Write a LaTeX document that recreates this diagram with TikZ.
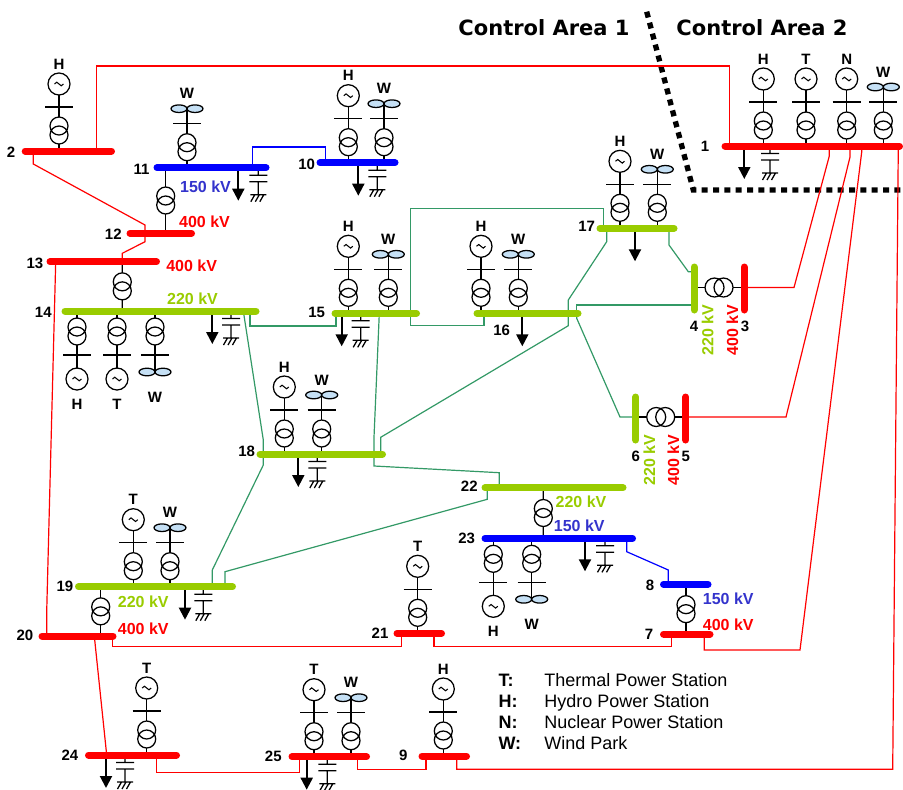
\documentclass[tikz,border=0pt]{standalone}
\usepackage{fontspec}
\setmainfont{Liberation Sans}
\newfontfamily\dvfont{DejaVu Sans}
\usetikzlibrary{arrows.meta,calc}
\definecolor{bred}{HTML}{FF0000}
\definecolor{bblue}{HTML}{0000FF}
\definecolor{bgreen}{HTML}{99CC00}
\definecolor{lgreen}{HTML}{339966}
\definecolor{tblue}{HTML}{3333CC}
\definecolor{wfill}{HTML}{C5E0F5}
\newcommand\defbus[4]{\coordinate (#1-l) at (#2,#4);\coordinate (#1-r) at (#3,#4);\coordinate (#1) at ({(#2+#3)/2},#4);}
\newcommand\defvbus[4]{\coordinate (#1-l) at (#2,#3);\coordinate (#1-r) at (#2,#4);\coordinate (#1) at (#2,{(#3+#4)/2});}
\newcommand\xfv[3]{%
  \coordinate (xa) at (#1,0 |- #2);\coordinate (xb) at (#1,0 |- #3);
  \coordinate (xm) at ($(xa)!0.5!(xb)$);
  \draw[sym] (xa) -- ($(xm)+(0,-13.5)$) ($(xm)+(0,13.5)$) -- (xb);
  \draw[sym] ($(xm)+(0,-4.5)$) circle[radius=9] ($(xm)+(0,4.5)$) circle[radius=9];}
\newcommand\xfh[3]{%
  \coordinate (xa) at (#2 |- 0,#1);\coordinate (xb) at (#3 |- 0,#1);
  \coordinate (xm) at ($(xa)!0.5!(xb)$);
  \draw[sym] (xa) -- ($(xm)+(-14,0)$) ($(xm)+(14,0)$) -- (xb);
  \draw[sym] ($(xm)+(-4.5,0)$) circle[radius=9.5] ($(xm)+(4.5,0)$) circle[radius=9.5];}
\tikzset{
  bus/.style={line width=5.25pt,line cap=round},
  rline/.style={draw=bred,line width=0.9pt},
  gline/.style={draw=lgreen,line width=0.9pt},
  bline/.style={draw=bblue,line width=0.9pt},
  sym/.style={draw=black,line width=0.95pt},
  num/.style={font=\bfseries\fontsize{11.25}{12}\selectfont,inner sep=0pt},
  kv/.style={font=\bfseries\fontsize{12}{13}\selectfont,inner sep=0pt},
  letter/.style={font=\bfseries\fontsize{11.25}{12}\selectfont,inner sep=0pt},
  legend/.style={font=\fontsize{13.5}{15}\selectfont,inner sep=0pt,anchor=base west},
  pics/genup/.style={code={
    \draw[sym] (0,0)--(0,-7) (0,-34)--(0,-56) (-14,-44)--(14,-44);
    \draw[sym] (0,-16) circle[radius=9] (0,-25) circle[radius=9];
    \draw[sym] (0,-67) circle[radius=11];
    \draw[sym,line width=0.8pt] (-4.5,-67) sin (-2.25,-68.8) cos (0,-67) sin (2.25,-65.2) cos (4.5,-67);
    \node[letter] at (0,-87) {#1};}},
  pics/windup/.style={code={
    \draw[sym] (0,0)--(0,-7) (0,-34)--(0,-59) (-14,-44)--(14,-44);
    \draw[sym] (0,-16) circle[radius=9] (0,-25) circle[radius=9];
    \draw[sym,fill=wfill] (-8,-59) ellipse[x radius=8,y radius=3.8] (8,-59) ellipse[x radius=8,y radius=3.8];
    \node[letter] at (0,-74) {W};}},
  pics/gendown/.style={code={
    \draw[sym] (0,0)--(0,7) (0,34)--(0,57) (-14,44)--(14,44);
    \draw[sym] (0,16) circle[radius=9] (0,25) circle[radius=9];
    \draw[sym] (0,68) circle[radius=11];
    \draw[sym,line width=0.8pt] (-4.5,68) sin (-2.25,66.2) cos (0,68) sin (2.25,69.8) cos (4.5,68);
    \node[letter] at (0,93) {#1};}},
  pics/winddown/.style={code={
    \draw[sym] (0,0)--(0,7) (0,34)--(0,61) (-14,44)--(14,44);
    \draw[sym] (0,16) circle[radius=9] (0,25) circle[radius=9];
    \draw[sym,fill=wfill] (-8,61) ellipse[x radius=8,y radius=3.8] (8,61) ellipse[x radius=8,y radius=3.8];
    \node[letter] at (0,86) {W};}},
  pics/load/.style={code={
    \draw[line width=1.5pt,-{Triangle[length=9pt,width=9pt]}] (0,0) -- (0,33);}},
  pics/cap/.style={code={
    \draw[sym] (0,0)--(0,7.5) (-9,7.5)--(9,7.5) (-9,14)--(9,14) (0,14)--(0,27) (-8,27)--(8,27)
      (-3.5,27)--(-7.5,34) (1,27)--(-3,34) (5.5,27)--(1.5,34);}}
}
\begin{document}
\begin{tikzpicture}[x=0.75pt,y=-0.75pt]
\useasboundingbox (0,0) rectangle (903,789);
% bus coordinates
\defbus{b1}{725}{899.5}{146}
\defbus{b2}{25.2}{111.5}{151}
\defbus{b11}{157}{266}{167.7}
\defbus{b10}{320}{395}{162.7}
\defbus{b12}{130}{191.5}{233.3}
\defbus{b13}{50}{156.5}{261.7}
\defbus{b14}{65}{256}{311}
\defbus{b15}{335}{416.5}{313.3}
\defbus{b16}{477}{578}{313.3}
\defbus{b17}{600}{674}{228.3}
\defbus{b18}{260}{382.5}{454}
\defbus{b22}{485}{623}{487.7}
\defbus{b23}{485}{632.5}{538.3}
\defbus{b8}{663.5}{708}{584.3}
\defbus{b7}{663.5}{710}{634}
\defbus{b21}{397}{441.5}{633.3}
\defbus{b19}{78.5}{232.5}{586.7}
\defbus{b20}{42}{113}{636}
\defbus{b24}{88.5}{176.5}{755}
\defbus{b25}{292}{366.5}{756.7}
\defbus{b9}{422}{466.5}{756}
\defvbus{b4}{694}{267}{310}
\defvbus{b3}{744}{267}{310}
\defvbus{b6}{635.7}{397}{440}
\defvbus{b5}{685.7}{397}{440}
% control area border
\draw[line width=4pt,dash pattern=on 4.5pt off 4pt] (646.7,11.7) -- (693.3,190) -- (903,190);
\node[font=\dvfont\bfseries\fontsize{15.75}{17}\selectfont,inner sep=0pt] (ca1) at (544,28) {Control Area 1};
\node[font=\dvfont\bfseries\fontsize{15.75}{17}\selectfont,inner sep=0pt] (ca2) at (762,28) {Control Area 2};
% red lines
\draw[rline] (96.7,0 |- b2) -- (96.7,66) -- (729.3,66) -- (729.3,0 |- b1);
\draw[rline] (33.3,0 |- b2) -- (33.3,164) -- (145,225) -- (145,0 |- b12);
\draw[rline] (145,0 |- b12) -- (145,241.7) -- (122.3,253.3) -- (122.3,0 |- b13);
\draw[rline] (55.7,0 |- b13) -- (46.7,611.7) -- (46.7,0 |- b20);
\draw[rline] (112.3,0 |- b20) -- (112.3,646.7) -- (401.7,646.7) -- (401.7,0 |- b21);
\draw[rline] (434,0 |- b21) -- (434,646.7) -- (671.7,646.7) -- (671.7,0 |- b7);
\draw[rline] (94.3,0 |- b20) -- (106.7,0 |- b24);
\draw[rline] (156.7,0 |- b24) -- (156.7,772.7) -- (299.3,772.7) -- (299.3,0 |- b25);
\draw[rline] (357.7,0 |- b25) -- (357.7,769.3) -- (426,769.3) -- (426,0 |- b9);
\draw[rline] (456.7,0 |- b9) -- (456.7,769.3) -- (892.7,769.3) -- (898.3,0 |- b1);
\draw[rline] (829.3,0 |- b1) -- (829.3,156) -- (794,287.5) -- (b3 |- 0,287.5);
\draw[rline] (850,0 |- b1) -- (850,157) -- (786,417) -- (b5 |- 0,417);
\draw[rline] (861.7,0 |- b1) -- (861.7,152) -- (800,650) -- (704.3,650) -- (704.3,0 |- b7);
% green lines
\draw[gline] (250,0 |- b14) -- (250,326) -- (336,326) -- (336,0 |- b15);
\draw[gline] (243.3,0 |- b14) -- (263.3,440) -- (263.3,0 |- b18);
\draw[gline] (263.3,0 |- b18) -- (263.3,465) -- (212.3,570) -- (212.3,0 |- b19);
\draw[gline] (487.3,0 |- b22) -- (487.3,499.3) -- (225,571.7) -- (225,0 |- b19);
\draw[gline] (410.7,0 |- b15) -- (410.7,208.3) -- (603.3,208.3) -- (603.3,0 |- b17);
\draw[gline] (410.7,0 |- b15) -- (410.7,325.7) -- (484,325.7) -- (484,0 |- b16);
\draw[gline] (606.7,0 |- b17) -- (606.7,241.7) -- (568.3,300) -- (568.3,0 |- b16);
\draw[gline] (568.3,0 |- b16) -- (568.3,325.7) -- (380.7,437.3) -- (380.7,0 |- b18);
\draw[gline] (379.3,0 |- b15) -- (374,437.3) -- (374,0 |- b18);
\draw[gline] (576.7,0 |- b16) -- (576.7,305) -- (b4 |- 0,305);
\draw[gline] (576.7,0 |- b16) -- (576.7,318.3) -- (620,417) -- (b6 |- 0,417);
\draw[gline] (669,0 |- b17) -- (669,245) -- (688.3,271.7) -- (b4 |- 0,271.7);
\draw[gline] (374,0 |- b18) -- (374,466) -- (499.3,472.7) -- (499.3,0 |- b22);
% blue lines
\draw[bline] (252.3,0 |- b11) -- (252.3,147) -- (325.7,147) -- (325.7,0 |- b10);
\draw[bline] (626.7,0 |- b23) -- (626.7,551.7) -- (668.3,570) -- (668.3,0 |- b8);
% transformers between buses
\xfv{165.7}{b11}{b12}
\xfv{122.3}{b13}{b14}
\xfv{543.3}{b22}{b23}
\xfv{686}{b8}{b7}
\xfv{100.7}{b19}{b20}
\xfh{287.5}{b4}{b3}
\xfh{417}{b6}{b5}
% generating units
\pic at (763.3,0 |- b1) {genup=H};
\pic at (806,0 |- b1) {genup=T};
\pic at (846.7,0 |- b1) {genup=N};
\pic at (883.3,0 |- b1) {windup};
\pic at (59,0 |- b2) {genup=H};
\pic at (187,0 |- b11) {windup};
\pic at (348.3,0 |- b10) {genup=H};
\pic at (384,0 |- b10) {windup};
\pic at (348.3,0 |- b15) {genup=H};
\pic at (388.3,0 |- b15) {windup};
\pic at (481,0 |- b16) {genup=H};
\pic at (518.3,0 |- b16) {windup};
\pic at (620,0 |- b17) {genup=H};
\pic at (657.3,0 |- b17) {windup};
\pic at (284.3,0 |- b18) {genup=H};
\pic at (321.7,0 |- b18) {windup};
\pic at (133.3,0 |- b19) {genup=T};
\pic at (170,0 |- b19) {windup};
\pic at (417.7,0 |- b21) {genup=T};
\pic at (146.7,0 |- b24) {genup=T};
\pic at (314,0 |- b25) {genup=T};
\pic at (351,0 |- b25) {windup};
\pic at (443.3,0 |- b9) {genup=H};
\pic at (77,0 |- b14) {gendown=H};
\pic at (117,0 |- b14) {gendown=T};
\pic at (155,0 |- b14) {winddown};
\pic at (493.3,0 |- b23) {gendown=H};
\pic at (531.7,0 |- b23) {winddown};
% loads
\foreach \x/\b in {744.3/b1,238.3/b11,358.3/b10,212.3/b14,341.7/b15,522.3/b16,635/b17,298.3/b18,585/b23,185/b19,106/b24,306.7/b25}
  \pic at (\x,0 |- \b) {load};
% capacitors
\foreach \x/\b in {770/b1,258.3/b11,377.3/b10,231/b14,360.7/b15,317.3/b18,605/b23,203.3/b19,125/b24,327.3/b25}
  \pic at (\x,0 |- \b) {cap};
% buses
\foreach \b in {b1,b2,b3,b5,b7,b9,b12,b13,b20,b21,b24,b25}
  \draw[bus,bred] (\b-l) -- (\b-r);
\foreach \b in {b10,b11,b8,b23}
  \draw[bus,bblue] (\b-l) -- (\b-r);
\foreach \b in {b4,b6,b14,b15,b16,b17,b18,b19,b22}
  \draw[bus,bgreen] (\b-l) -- (\b-r);
% bus numbers
\foreach \t/\p in {1/{705,146},2/{11,152},11/{141.5,169},10/{306.7,164},12/{113.3,234.3},13/{35,263.3},14/{43.3,312.3},15/{316.7,312},16/{501.7,330.7},17/{586.7,226.7},18/{246.7,451.7},22/{469.3,486.7},23/{466.7,538.3},8/{650,585},7/{649,634},21/{380,633.3},19/{65,586.7},20/{25,635},24/{70,755},25/{273.3,756.7},9/{403.3,755},4/{694,326},3/{745,326},6/{635.7,456},5/{685.7,456}}
  \node[num] (n\t) at (\p) {\t};
% voltage labels
\node[kv,text=tblue] (v11) at (205.5,186.7) {150 kV};
\node[kv,text=bred] (v12) at (204.5,222) {400 kV};
\node[kv,text=bred] (v13) at (191.7,265.7) {400 kV};
\node[kv,text=bgreen] (v14) at (192.5,298.3) {220 kV};
\node[kv,text=bgreen] (v22) at (581,501.7) {220 kV};
\node[kv,text=tblue] (v23) at (579.3,525.7) {150 kV};
\node[kv,text=tblue] (v8) at (728.3,598.3) {150 kV};
\node[kv,text=bred] (v7) at (728.3,624.3) {400 kV};
\node[kv,text=bgreen] (v19) at (143.3,601.7) {220 kV};
\node[kv,text=bred] (v20) at (143.3,628.3) {400 kV};
\node[kv,text=bgreen,rotate=90] (v4) at (707.7,330) {220 kV};
\node[kv,text=bred,rotate=90] (v3) at (732.3,330) {400 kV};
\node[kv,text=bgreen,rotate=90] (v6) at (649.3,460) {220 kV};
\node[kv,text=bred,rotate=90] (v5) at (673.3,460) {400 kV};
% legend
\foreach \k/\d/\y in {T/Thermal Power Station/680,H/Hydro Power Station/701,N/Nuclear Power Station/722,W/Wind Park/743}{
  \node[legend] (lk\k) at (498.3,\y+6.5) {\bfseries \k:};
  \node[legend] (ld\k) at (544,\y+6.5) {\d};}
\end{tikzpicture}
\end{document}
